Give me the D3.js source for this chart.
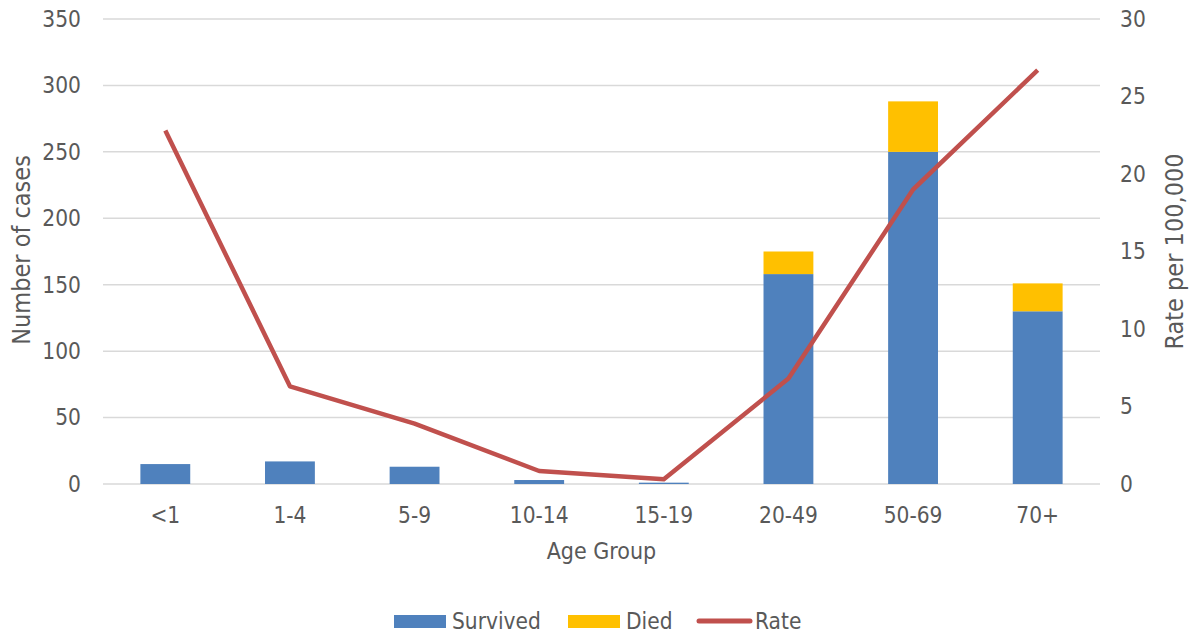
<!DOCTYPE html>
<html>
<head>
<meta charset="utf-8">
<script src="https://cdn.jsdelivr.net/npm/d3@7"></script>
<style>
  body { margin: 0; background: #fff; }
  text { font-family: "DejaVu Sans Condensed", "DejaVu Sans", sans-serif; fill: #595959; }
</style>
</head>
<body>
<div id="chart"></div>
<script>
// chart data
var ageGroups = ["<1", "1-4", "5-9", "10-14", "15-19", "20-49", "50-69", "70+"];
var survived = [15, 17, 13, 3, 1, 158, 250, 130];
var died = [0, 0, 0, 0, 0, 17, 38, 21];
var rate = [22.8, 6.3, 3.9, 0.84, 0.3, 6.8, 19.0, 26.7];
var leftTicks = [0, 50, 100, 150, 200, 250, 300, 350];
var rightTicks = [0, 5, 10, 15, 20, 25, 30];

var W = 1189, H = 635;
var margin = {top: 19, right: 89, bottom: 151, left: 103},
    width = W - margin.left - margin.right,
    height = H - margin.top - margin.bottom;

var svg = d3.select("#chart")
    .append("svg")
    .attr("width", W)
    .attr("height", H)
    .append("g")
    .attr("transform", "translate(" + margin.left + "," + margin.top + ")");

// scales
var x = d3.scaleBand()
    .domain(ageGroups)
    .range([0, width])
    .paddingInner(0.6)
    .paddingOuter(0.3);

var y = d3.scaleLinear().domain([0, 350]).range([height, 0]);
var y2 = d3.scaleLinear().domain([0, 30]).range([height, 0]);

// gridlines
svg.append("g")
    .selectAll("line")
    .data(leftTicks)
    .enter()
    .append("line")
    .attr("x1", 0)
    .attr("x2", width)
    .attr("y1", d => y(d))
    .attr("y2", d => y(d))
    .attr("stroke", "#d9d9d9")
    .attr("stroke-width", 1.5);

// left axis labels
svg.append("g")
    .selectAll("text")
    .data(leftTicks)
    .enter()
    .append("text")
    .attr("x", -22)
    .attr("y", d => y(d))
    .attr("dy", "0.35em")
    .attr("text-anchor", "end")
    .style("font-size", "22.5px")
    .text(d => d);

// right axis labels
svg.append("g")
    .selectAll("text")
    .data(rightTicks)
    .enter()
    .append("text")
    .attr("x", width + 20)
    .attr("y", d => y2(d))
    .attr("dy", "0.35em")
    .attr("text-anchor", "start")
    .style("font-size", "22.5px")
    .text(d => d);

// x axis labels
svg.append("g")
    .selectAll("text")
    .data(ageGroups)
    .enter()
    .append("text")
    .attr("x", d => x(d) + x.bandwidth() / 2)
    .attr("y", height + 31)
    .attr("dy", "0.35em")
    .attr("text-anchor", "middle")
    .style("font-size", "22.5px")
    .text(d => d);

// stacked bars
var stackData = ageGroups.map((g, i) => ({group: g, Survived: survived[i], Died: died[i]}));
var series = d3.stack().keys(["Survived", "Died"])(stackData);
var color = d3.scaleOrdinal().domain(["Survived", "Died"]).range(["#4f81bd", "#ffc000"]);

svg.append("g")
    .selectAll("g")
    .data(series)
    .enter()
    .append("g")
    .attr("fill", d => color(d.key))
    .selectAll("rect")
    .data(d => d)
    .enter()
    .append("rect")
    .attr("x", d => x(d.data.group))
    .attr("y", d => y(d[1]))
    .attr("width", x.bandwidth())
    .attr("height", d => y(d[0]) - y(d[1]));

// rate line
var line = d3.line()
    .x((d, i) => x(ageGroups[i]) + x.bandwidth() / 2)
    .y(d => y2(d));

svg.append("path")
    .datum(rate)
    .attr("fill", "none")
    .attr("stroke", "#c0504d")
    .attr("stroke-width", 4.5)
    .attr("stroke-linejoin", "round")
    .attr("d", line);

// axis titles
svg.append("text")
    .attr("x", width / 2)
    .attr("y", height + 67)
    .attr("dy", "0.35em")
    .attr("text-anchor", "middle")
    .style("font-size", "23px")
    .text("Age Group");

svg.append("text")
    .attr("transform", "rotate(-90)")
    .attr("x", -231)
    .attr("y", -82)
    .attr("dy", "0.35em")
    .attr("text-anchor", "middle")
    .style("font-size", "25px")
    .text("Number of cases");

svg.append("text")
    .attr("transform", "rotate(-90)")
    .attr("x", -232.5)
    .attr("y", width + 74)
    .attr("dy", "0.35em")
    .attr("text-anchor", "middle")
    .style("font-size", "25px")
    .text("Rate per 100,000");

// legend
var legend = d3.select("svg").append("g");
var legendItems = [
    {name: "Survived", type: "rect", color: "#4f81bd", x: 394},
    {name: "Died", type: "rect", color: "#ffc000", x: 568},
    {name: "Rate", type: "line", color: "#c0504d", x: 697}
];
legendItems.forEach(item => {
    if (item.type === "rect") {
        legend.append("rect")
            .attr("x", item.x)
            .attr("y", 615)
            .attr("width", 52)
            .attr("height", 13)
            .attr("fill", item.color);
    } else {
        legend.append("line")
            .attr("x1", item.x + 2)
            .attr("x2", item.x + 53)
            .attr("y1", 621)
            .attr("y2", 621)
            .attr("stroke", item.color)
            .attr("stroke-width", 5)
            .attr("stroke-linecap", "round");
    }
    legend.append("text")
        .attr("x", item.x + 58)
        .attr("y", 621)
        .attr("dy", "0.35em")
        .style("font-size", "22.5px")
        .text(item.name);
});
</script>
</body>
</html>
